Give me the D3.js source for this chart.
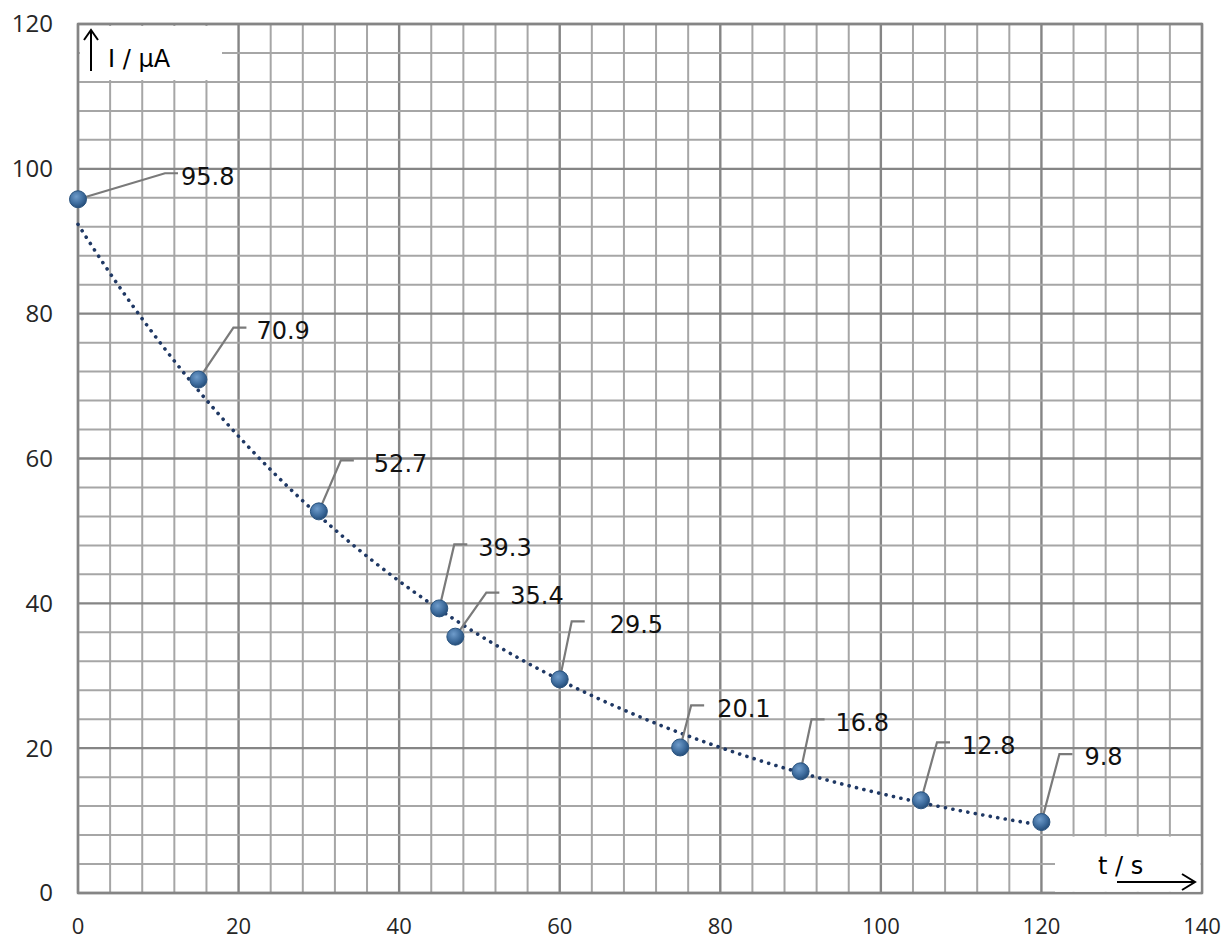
<!DOCTYPE html>
<html>
<head>
<meta charset="utf-8">
<script src="https://cdn.jsdelivr.net/npm/d3@7"></script>
<style>
  body { margin: 0; background: #fff; }
  svg { display: block; }
</style>
</head>
<body>
<svg id="chart"></svg>
<script>
// data
const times = [0, 15, 30, 45, 47, 60, 75, 90, 105, 120];
const currents = [95.8, 70.9, 52.7, 39.3, 35.4, 29.5, 20.1, 16.8, 12.8, 9.8];
const xTicks = [0, 20, 40, 60, 80, 100, 120, 140];
const yTicks = [0, 20, 40, 60, 80, 100, 120];

// where each data label sits (px offsets from the marker: bend dx, bend dy, text dx)
const labelLayout = [
    [87, -26, 103], [35, -52, 58], [22, -51, 55], [15, -64, 39], [31, -44, 55],
    [12, -58, 50], [11, -42, 37], [11, -52, 35], [16, -58, 41], [18, -68, 43]
];

const width = 1227;
const height = 942;
const plotLeft = 78, plotRight = 1202, plotTop = 24, plotBottom = 893;

const svg = d3.select("#chart")
    .attr("width", width)
    .attr("height", height);

const x = d3.scaleLinear().domain([0, 140]).range([plotLeft, plotRight]);
const y = d3.scaleLinear().domain([0, 120]).range([plotBottom, plotTop]);

// marker gradient
const grad = svg.append("defs").append("radialGradient")
    .attr("id", "dotGrad")
    .attr("cx", "40%").attr("cy", "35%").attr("r", "65%");
grad.append("stop").attr("offset", "0%").attr("stop-color", "#6f9ccb");
grad.append("stop").attr("offset", "65%").attr("stop-color", "#3d6b9c");
grad.append("stop").attr("offset", "100%").attr("stop-color", "#264e7a");

// Grid - minor every 4, major every 20
const grid = svg.append("g");
d3.range(0, 141, 4).forEach(v => {
    const major = v % 20 === 0;
    grid.append("line")
        .attr("x1", x(v)).attr("x2", x(v))
        .attr("y1", y(0)).attr("y2", y(120))
        .style("stroke", major ? "#858585" : "#a6a6a6")
        .style("stroke-width", major ? 2.4 : 2);
});
d3.range(0, 121, 4).forEach(v => {
    const major = v % 20 === 0;
    grid.append("line")
        .attr("x1", x(0)).attr("x2", x(140))
        .attr("y1", y(v)).attr("y2", y(v))
        .style("stroke", major ? "#858585" : "#a6a6a6")
        .style("stroke-width", major ? 2.4 : 2);
});
// border
grid.append("rect")
    .attr("x", x(0)).attr("y", y(120))
    .attr("width", x(140) - x(0)).attr("height", y(0) - y(120))
    .style("fill", "none")
    .style("stroke", "#858585")
    .style("stroke-width", 2.4);

// Tick labels
svg.append("g").selectAll("text")
    .data(yTicks)
    .join("text")
    .attr("x", 53)
    .attr("y", d => y(d))
    .attr("dy", "0.35em")
    .attr("text-anchor", "end")
    .style("font-family", "'Open Sans', sans-serif")
    .style("font-size", "24px")
    .style("fill", "#262626")
    .text(d => d);

svg.append("g").selectAll("text")
    .data(xTicks)
    .join("text")
    .attr("x", d => x(d))
    .attr("y", 926)
    .attr("dy", "0.35em")
    .attr("text-anchor", "middle")
    .style("font-family", "'Open Sans', sans-serif")
    .style("font-size", "22px")
    .style("fill", "#262626")
    .text(d => d);

// Axis title boxes
svg.append("rect")
    .attr("x", x(0) + 2).attr("y", y(120) + 2)
    .attr("width", 142).attr("height", 54)
    .style("fill", "#fff");
svg.append("rect")
    .attr("x", 1055).attr("y", y(8) + 1.5)
    .attr("width", x(140) - 1.5 - 1055).attr("height", y(0) - y(8) - 2.7)
    .style("fill", "#fff");

// y title with arrow
svg.append("line")
    .attr("x1", 91).attr("x2", 91).attr("y1", 71).attr("y2", 31)
    .style("stroke", "#000").style("stroke-width", 2);
svg.append("path")
    .attr("d", "M84,40 L91,30 L98,40")
    .style("fill", "none").style("stroke", "#000").style("stroke-width", 2);
svg.append("text")
    .attr("x", 108).attr("y", 67)
    .style("font-family", "'DejaVu Sans', sans-serif")
    .style("font-size", "24px")
    .style("fill", "#000")
    .text("I / μA");

// x title with arrow
svg.append("text")
    .attr("x", 1098).attr("y", 874)
    .style("font-family", "'DejaVu Sans', sans-serif")
    .style("font-size", "24px")
    .style("fill", "#000")
    .text("t / s");
svg.append("line")
    .attr("x1", 1117).attr("x2", 1194).attr("y1", 882).attr("y2", 882)
    .style("stroke", "#000").style("stroke-width", 2);
svg.append("path")
    .attr("d", "M1182,874 L1195,882 L1182,890")
    .style("fill", "none").style("stroke", "#000").style("stroke-width", 2);

// Exponential trendline (least squares on ln I, like a spreadsheet trendline)
const lnI = currents.map(Math.log);
const mt = d3.mean(times), ml = d3.mean(lnI);
const b = d3.sum(times, (t, i) => (t - mt) * (lnI[i] - ml)) / d3.sum(times, t => (t - mt) ** 2);
const a = Math.exp(ml - b * mt);
const trend = d3.range(0, 120.5, 1).map(t => ({ t, v: a * Math.exp(b * t) }));

svg.append("path")
    .datum(trend)
    .attr("d", d3.line().x(d => x(d.t)).y(d => y(d.v)))
    .style("fill", "none")
    .style("stroke", "#1f3864")
    .style("stroke-width", 3.6)
    .style("stroke-linecap", "round")
    .style("stroke-dasharray", "0.1,7.5");

// Leader lines + labels
const pts = times.map((t, i) => ({ t, v: currents[i], lay: labelLayout[i] }));

pts.forEach(p => {
    const px = x(p.t), py = y(p.v);
    const bx = px + p.lay[0], by = py + p.lay[1];
    svg.append("path")
        .attr("d", `M${px},${py} L${bx},${by} L${bx + 13},${by}`)
        .style("fill", "none")
        .style("stroke", "#7a7a7a")
        .style("stroke-width", 2.2);
    svg.append("text")
        .attr("x", px + p.lay[2])
        .attr("y", by + 3)
        .attr("dy", "0.35em")
        .style("font-family", "'DejaVu Sans', sans-serif")
        .style("font-size", "24px")
        .style("fill", "#111")
        .text(p.v.toFixed(1));
});

// Markers
svg.append("g").selectAll("circle")
    .data(pts)
    .join("circle")
    .attr("cx", d => x(d.t))
    .attr("cy", d => y(d.v))
    .attr("r", 8.5)
    .style("fill", "url(#dotGrad)")
    .style("stroke", "#2a5480")
    .style("stroke-width", 1);
</script>
</body>
</html>
